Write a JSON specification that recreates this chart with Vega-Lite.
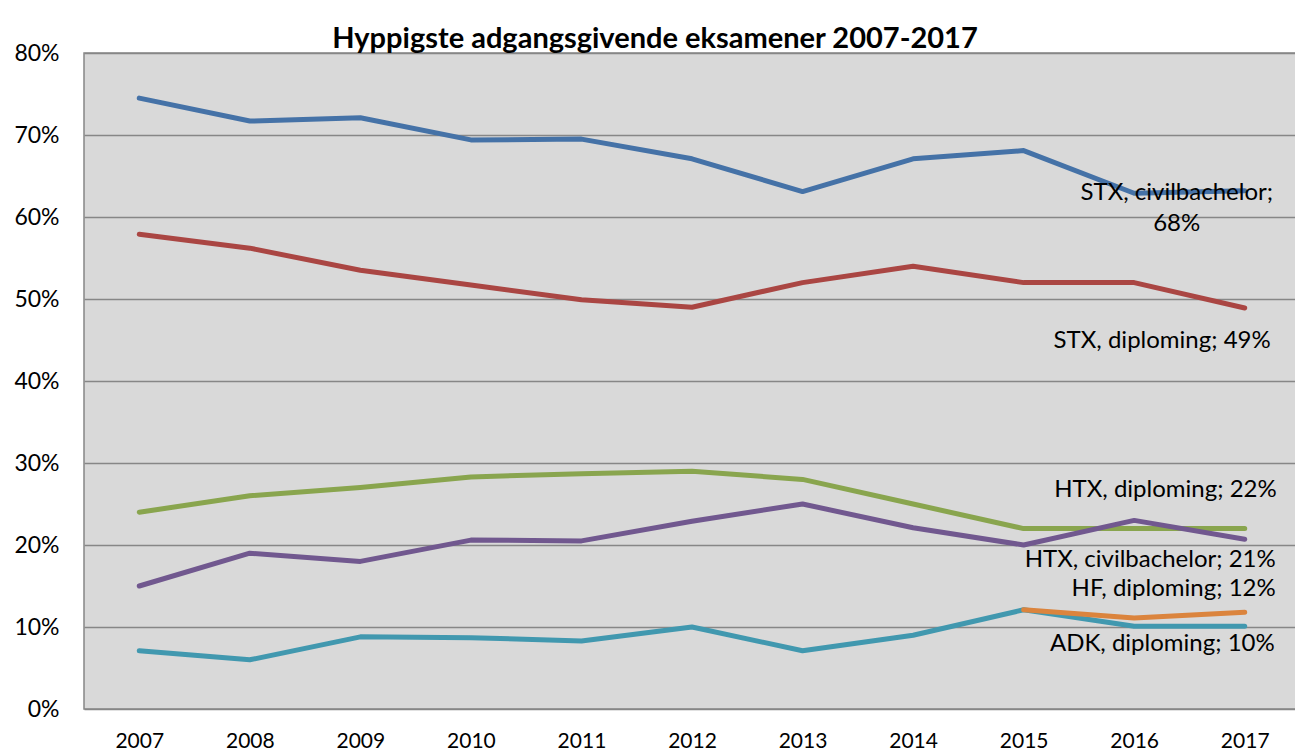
{
  "$schema": "https://vega.github.io/schema/vega-lite/v6.json",
  "autosize": "none",
  "width": 1216,
  "height": 656,
  "padding": {"left": 84, "top": 53, "right": 0, "bottom": 46},
  "background": "white",
  "title": {
    "text": "Hyppigste adgangsgivende eksamener 2007-2017",
    "font": "Lato",
    "fontSize": 29,
    "fontWeight": "bold",
    "color": "#000000",
    "anchor": "middle",
    "offset": -12,
    "dx": -37
  },
  "config": {
    "view": {"fill": "#D9D9D9", "stroke": "#878787", "strokeWidth": 1.5},
    "font": "Lato"
  },
  "data": {
    "values": [
      {"year": "2007", "series": "STX, civilbachelor", "value": 0.745},
      {"year": "2008", "series": "STX, civilbachelor", "value": 0.717},
      {"year": "2009", "series": "STX, civilbachelor", "value": 0.721},
      {"year": "2010", "series": "STX, civilbachelor", "value": 0.694},
      {"year": "2011", "series": "STX, civilbachelor", "value": 0.695},
      {"year": "2012", "series": "STX, civilbachelor", "value": 0.671},
      {"year": "2013", "series": "STX, civilbachelor", "value": 0.631},
      {"year": "2014", "series": "STX, civilbachelor", "value": 0.671},
      {"year": "2015", "series": "STX, civilbachelor", "value": 0.681},
      {"year": "2016", "series": "STX, civilbachelor", "value": 0.629},
      {"year": "2017", "series": "STX, civilbachelor", "value": 0.632},
      {"year": "2007", "series": "STX, diploming", "value": 0.579},
      {"year": "2008", "series": "STX, diploming", "value": 0.562},
      {"year": "2009", "series": "STX, diploming", "value": 0.535},
      {"year": "2010", "series": "STX, diploming", "value": 0.517},
      {"year": "2011", "series": "STX, diploming", "value": 0.499},
      {"year": "2012", "series": "STX, diploming", "value": 0.490},
      {"year": "2013", "series": "STX, diploming", "value": 0.520},
      {"year": "2014", "series": "STX, diploming", "value": 0.540},
      {"year": "2015", "series": "STX, diploming", "value": 0.520},
      {"year": "2016", "series": "STX, diploming", "value": 0.520},
      {"year": "2017", "series": "STX, diploming", "value": 0.489},
      {"year": "2007", "series": "HTX, diploming", "value": 0.240},
      {"year": "2008", "series": "HTX, diploming", "value": 0.260},
      {"year": "2009", "series": "HTX, diploming", "value": 0.270},
      {"year": "2010", "series": "HTX, diploming", "value": 0.283},
      {"year": "2011", "series": "HTX, diploming", "value": 0.287},
      {"year": "2012", "series": "HTX, diploming", "value": 0.290},
      {"year": "2013", "series": "HTX, diploming", "value": 0.280},
      {"year": "2014", "series": "HTX, diploming", "value": 0.250},
      {"year": "2015", "series": "HTX, diploming", "value": 0.220},
      {"year": "2016", "series": "HTX, diploming", "value": 0.220},
      {"year": "2017", "series": "HTX, diploming", "value": 0.220},
      {"year": "2007", "series": "HTX, civilbachelor", "value": 0.150},
      {"year": "2008", "series": "HTX, civilbachelor", "value": 0.190},
      {"year": "2009", "series": "HTX, civilbachelor", "value": 0.180},
      {"year": "2010", "series": "HTX, civilbachelor", "value": 0.206},
      {"year": "2011", "series": "HTX, civilbachelor", "value": 0.205},
      {"year": "2012", "series": "HTX, civilbachelor", "value": 0.229},
      {"year": "2013", "series": "HTX, civilbachelor", "value": 0.250},
      {"year": "2014", "series": "HTX, civilbachelor", "value": 0.221},
      {"year": "2015", "series": "HTX, civilbachelor", "value": 0.200},
      {"year": "2016", "series": "HTX, civilbachelor", "value": 0.230},
      {"year": "2017", "series": "HTX, civilbachelor", "value": 0.207},
      {"year": "2007", "series": "ADK, diploming", "value": 0.071},
      {"year": "2008", "series": "ADK, diploming", "value": 0.060},
      {"year": "2009", "series": "ADK, diploming", "value": 0.088},
      {"year": "2010", "series": "ADK, diploming", "value": 0.087},
      {"year": "2011", "series": "ADK, diploming", "value": 0.083},
      {"year": "2012", "series": "ADK, diploming", "value": 0.100},
      {"year": "2013", "series": "ADK, diploming", "value": 0.071},
      {"year": "2014", "series": "ADK, diploming", "value": 0.090},
      {"year": "2015", "series": "ADK, diploming", "value": 0.121},
      {"year": "2016", "series": "ADK, diploming", "value": 0.101},
      {"year": "2017", "series": "ADK, diploming", "value": 0.101},
      {"year": "2015", "series": "HF, diploming", "value": 0.121},
      {"year": "2016", "series": "HF, diploming", "value": 0.111},
      {"year": "2017", "series": "HF, diploming", "value": 0.118}
    ]
  },
  "encoding": {
    "x": {
      "field": "year",
      "type": "ordinal",
      "scale": {"type": "point", "padding": 0.5},
      "axis": {
        "title": null,
        "labelAngle": 0,
        "ticks": false,
        "domain": false,
        "grid": false,
        "labelFont": "Lato",
        "labelFontSize": 21,
        "labelColor": "#000000",
        "labelPadding": 21
      }
    },
    "y": {
      "field": "value",
      "type": "quantitative",
      "scale": {"domain": [0, 0.8], "nice": false},
      "axis": {
        "title": null,
        "format": ".0%",
        "values": [0, 0.1, 0.2, 0.3, 0.4, 0.5, 0.6, 0.7, 0.8],
        "labelOverlap": false,
        "ticks": false,
        "domain": false,
        "grid": true,
        "gridColor": "#878787",
        "gridWidth": 1.5,
        "gridOpacity": 1,
        "labelFont": "Lato",
        "labelFontSize": 23,
        "labelColor": "#000000",
        "labelPadding": 25
      }
    }
  },
  "layer": [
    {
      "mark": {"type": "line", "strokeWidth": 5, "strokeCap": "round", "strokeJoin": "round"},
      "encoding": {
        "color": {
          "field": "series",
          "type": "nominal",
          "legend": null,
          "scale": {
            "domain": ["STX, civilbachelor", "STX, diploming", "HTX, diploming", "HTX, civilbachelor", "ADK, diploming", "HF, diploming"],
            "range": ["#4572A7", "#AA4643", "#89A54E", "#71588F", "#4198AF", "#DB843D"]
          }
        },
        "order": {"field": "year"}
      }
    },
    {
      "transform": [{"filter": "datum.year == '2017' && datum.series == 'STX, civilbachelor'"}],
      "mark": {"type": "text", "text": ["STX, civilbachelor;", "68%"], "align": "center", "baseline": "middle", "lineHeight": 31, "dx": -68, "dy": 2, "fontSize": 24, "font": "Lato", "color": "#000000"}
    },
    {
      "transform": [{"filter": "datum.year == '2017' && datum.series == 'STX, diploming'"}],
      "mark": {"type": "text", "text": "STX, diploming; 49%", "align": "right", "baseline": "middle", "dx": 26, "dy": 33, "fontSize": 24, "font": "Lato", "color": "#000000"}
    },
    {
      "transform": [{"filter": "datum.year == '2017' && datum.series == 'HTX, diploming'"}],
      "mark": {"type": "text", "text": "HTX, diploming; 22%", "align": "right", "baseline": "middle", "dx": 32, "dy": -39, "fontSize": 24, "font": "Lato", "color": "#000000"}
    },
    {
      "transform": [{"filter": "datum.year == '2017' && datum.series == 'HTX, civilbachelor'"}],
      "mark": {"type": "text", "text": "HTX, civilbachelor; 21%", "align": "right", "baseline": "middle", "dx": 31, "dy": 21, "fontSize": 24, "font": "Lato", "color": "#000000"}
    },
    {
      "transform": [{"filter": "datum.year == '2017' && datum.series == 'HF, diploming'"}],
      "mark": {"type": "text", "text": "HF, diploming; 12%", "align": "right", "baseline": "middle", "dx": 31, "dy": -23, "fontSize": 24, "font": "Lato", "color": "#000000"}
    },
    {
      "transform": [{"filter": "datum.year == '2017' && datum.series == 'ADK, diploming'"}],
      "mark": {"type": "text", "text": "ADK, diploming; 10%", "align": "right", "baseline": "middle", "dx": 30, "dy": 18, "fontSize": 24, "font": "Lato", "color": "#000000"}
    }
  ]
}
